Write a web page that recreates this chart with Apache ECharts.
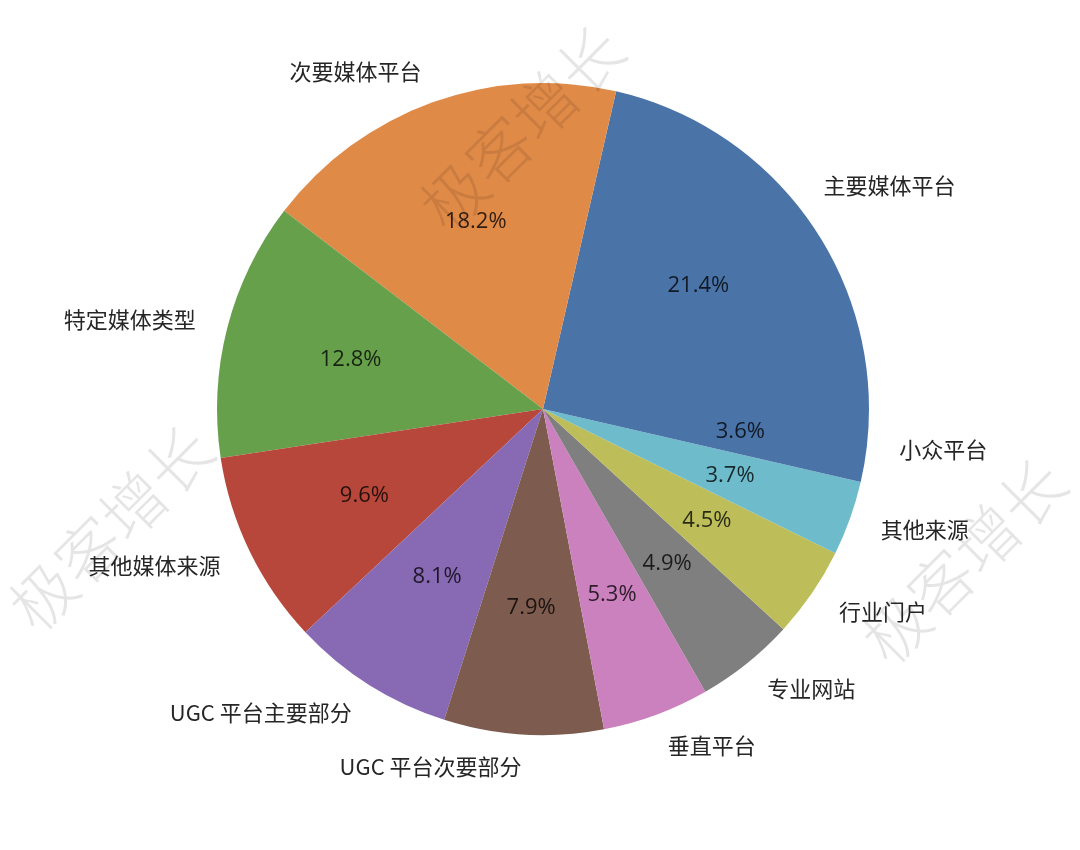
<!DOCTYPE html>
<html>
<head>
<meta charset="utf-8">
<script src="https://cdn.jsdelivr.net/npm/echarts@6/dist/echarts.min.js"></script>
<style>
html,body{margin:0;padding:0;background:#fff;}
#chart{width:1080px;height:850px;}
</style>
</head>
<body>
<div id="chart"></div>
<script>
// Data (counter-clockwise from 3 o'clock)
const categories = ['主要媒体平台','次要媒体平台','特定媒体类型','其他媒体来源','UGC 平台主要部分','UGC 平台次要部分','垂直平台','专业网站','行业门户','其他来源','小众平台'];
const shares = [21.4, 18.2, 12.8, 9.6, 8.1, 7.9, 5.3, 4.9, 4.5, 3.7, 3.6];
const colors = ['#4a74a8','#e08a48','#67a04b','#b6473a','#8869b3','#7d5b4e','#cb81bd','#7f7f7f','#bdbd5a','#6ebccb','#4a74a8'];
const watermarkText = '极客增长';

const cx = 543, cy = 409, R = 326;

const mainData = categories.map((c, i) => ({ name: c, value: shares[i], itemStyle: { color: colors[i] } }));
const ringData = categories.map((c, i) => ({ name: c, value: shares[i] }));

const chart = echarts.init(document.getElementById('chart'), null, { renderer: 'canvas' });

const wm = (x, y) => ({
  type: 'text', x: x, y: y, rotation: Math.PI / 4, silent: true, z: 100,
  style: {
    text: watermarkText, fill: 'rgba(0,0,0,0.10)',
    font: '300 64px "Noto Sans CJK SC"', textAlign: 'center', textVerticalAlign: 'middle'
  }
});

chart.setOption({
  backgroundColor: '#ffffff',
  animation: false,
  series: [
    {
      type: 'pie',
      center: [cx, cy],
      radius: [0, R],
      startAngle: 0,
      clockwise: false,
      avoidLabelOverlap: false,
      silent: true,
      itemStyle: { borderWidth: 0 },
      label: {
        show: true,
        position: 'outside',
        formatter: '{b}',
        color: '#262626',
        fontSize: 22,
        fontFamily: '"Noto Sans CJK SC", sans-serif',
        distanceToLabelLine: 0
      },
      labelLine: { show: false, length: R * 0.1, length2: 0 },
      emphasis: { disabled: true },
      data: mainData
    },
    {
      type: 'pie',
      center: [cx, cy],
      radius: [R * 0.4, R * 0.8],
      startAngle: 0,
      clockwise: false,
      avoidLabelOverlap: false,
      silent: true,
      itemStyle: { color: 'rgba(0,0,0,0)', borderWidth: 0 },
      label: {
        show: true,
        position: 'inside',
        formatter: p => p.value.toFixed(1) + '%',
        color: 'rgba(0,0,0,0.78)',
        fontSize: 22,
        fontFamily: '"Open Sans", sans-serif'
      },
      labelLine: { show: false },
      emphasis: { disabled: true },
      data: ringData
    }
  ],
  graphic: [wm(522, 128), wm(111, 528), wm(964, 561)]
});
</script>
</body>
</html>
